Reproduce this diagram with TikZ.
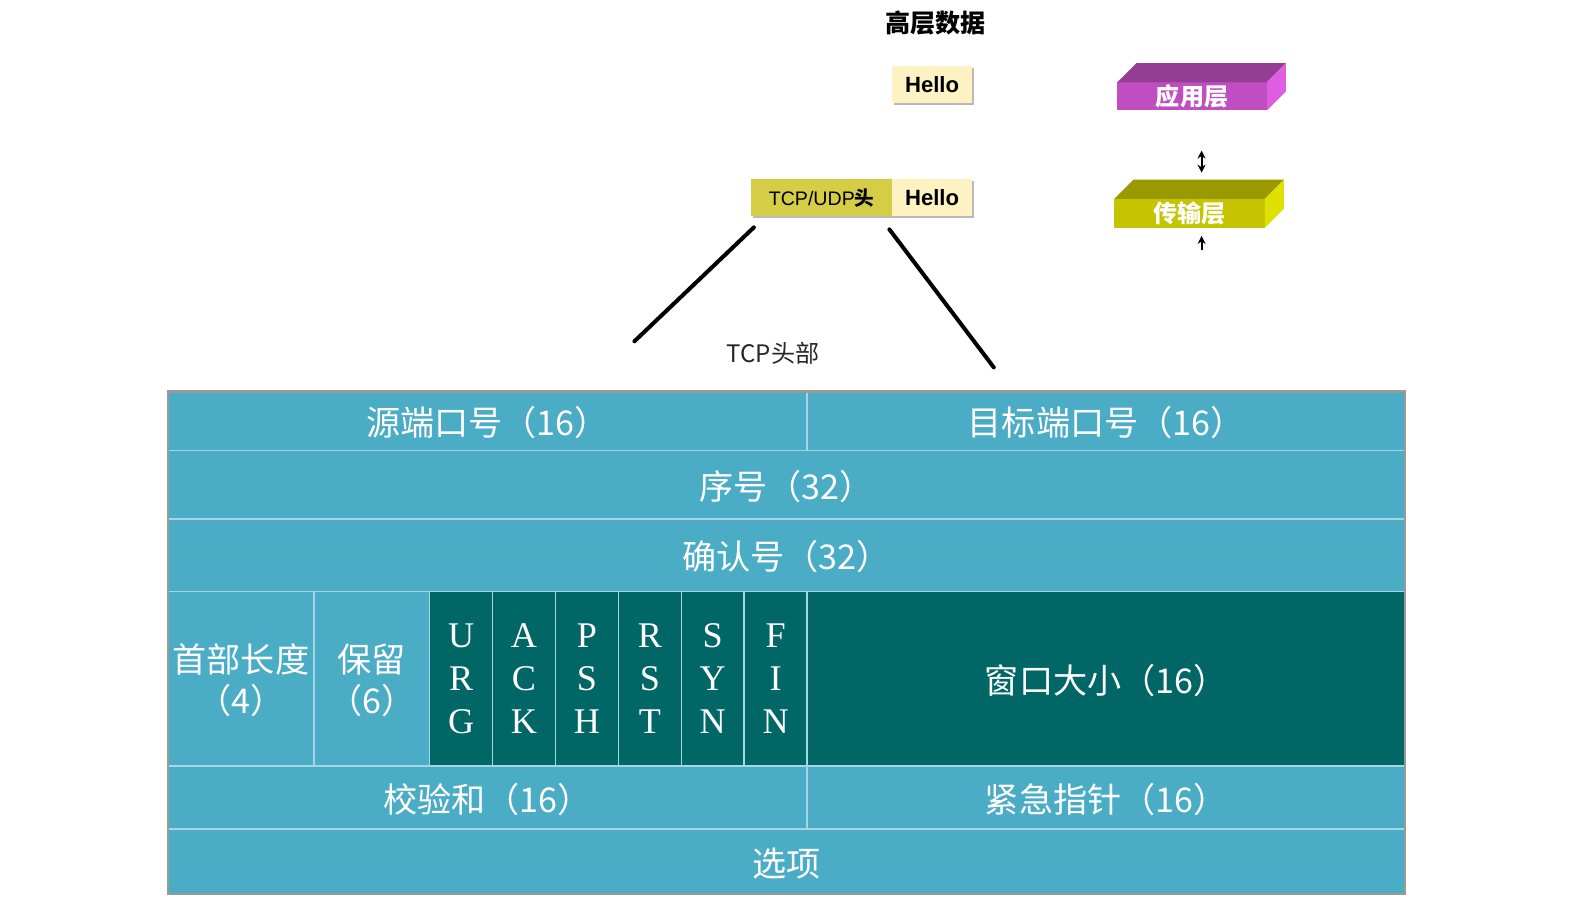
\documentclass[tikz,border=0pt]{standalone}
\usepackage{fontspec}
\setsansfont{Liberation Sans}
\newfontfamily\cjk{Noto Sans CJK SC}
\newfontfamily\flagfont{Liberation Serif}
\usetikzlibrary{arrows.meta,positioning,shadows}

\definecolor{aqua}{HTML}{4BACC6}
\definecolor{deepteal}{HTML}{006666}
\definecolor{gridline}{HTML}{A6D6E3}
\definecolor{hellofill}{HTML}{FFF2C2}
\definecolor{headfill}{HTML}{D4CD45}
\definecolor{appfront}{HTML}{C04EC0}
\definecolor{apptop}{HTML}{943D94}
\definecolor{appside}{HTML}{E05CE0}
\definecolor{trfront}{HTML}{C4C400}
\definecolor{trtop}{HTML}{9A9A00}
\definecolor{trside}{HTML}{E0E000}

\tikzset{
 cell/.style={draw=gridline,line width=1.5pt,fill=aqua,text=white,inner sep=0pt,outer sep=0pt,
  anchor=north west,align=center,text depth=-6pt,font=\cjk\fontsize{34}{41}\selectfont},
 flag/.style={cell,fill=deepteal,text depth=-11pt,font=\flagfont\fontsize{36}{43}\selectfont},
 pkt/.style={inner sep=0pt,outer sep=0pt,minimum height=37pt,
  drop shadow={shadow xshift=2pt,shadow yshift=-2pt,fill=black!60,opacity=.45}},
 layer/.style={inner sep=0pt,outer sep=0pt,text=white,font=\cjk\bfseries\fontsize{24}{24}\selectfont},
}

\begin{document}
\begin{tikzpicture}[x=1pt,y=-1pt,>=Stealth]
 \useasboundingbox (0,0) rectangle (1568,897);
 % data units
 \node[font=\cjk\bfseries\fontsize{25}{25}\selectfont] (upper) at (932,23) {高层数据};
 \node[pkt,fill=headfill,minimum width=141pt,font=\sffamily\fontsize{19.5}{19.5}\selectfont] (hdr) at (818.5,197) {TCP/UDP{\cjk\bfseries 头}};
 \node[pkt,fill=hellofill,minimum width=79pt,font=\sffamily\bfseries\fontsize{22}{22}\selectfont,right=0pt of hdr] (hello2) {Hello};
 \node[pkt,fill=hellofill,minimum width=79pt,font=\sffamily\bfseries\fontsize{22}{22}\selectfont,above=76pt of hello2] (hello1) {Hello};
 \coordinate (lfoot) at (632,340);
 \coordinate (rfoot) at (990,366);
 \draw[line width=4pt,line cap=round] ([xshift=3pt,yshift=-11pt]hdr.south west) -- (lfoot);
 \draw[line width=4pt,line cap=round] ([xshift=-3pt,yshift=-13pt]hdr.south east) -- (rfoot);
 \node[font=\cjk\fontsize{24}{24}\selectfont,text=black!85] (tcphead) at (770,352) {TCP头部};
 % layers
 \node[layer,fill=appfront,minimum width=149pt,minimum height=28pt] (app) at (1187.5,96) {应用层};
 \fill[apptop] (app.north west) -- ++(19,-19) -- ([shift={(19,-19)}]app.north east) -- (app.north east) -- cycle;
 \fill[appside] (app.north east) -- ++(19,-19) -- ([shift={(19,-19)}]app.south east) -- (app.south east) -- cycle;
 \node[layer,fill=trfront,minimum width=150pt,minimum height=29pt] (tr) at (1185,212.5) {传输层};
 \fill[trtop] (tr.north west) -- ++(19,-19) -- ([shift={(19,-19)}]tr.north east) -- (tr.north east) -- cycle;
 \fill[trside] (tr.north east) -- ++(19,-19) -- ([shift={(19,-19)}]tr.south east) -- (tr.south east) -- cycle;
 \coordinate (a1) at (1197,150);
 \coordinate (a2) at (1197,172);
 \coordinate (a3) at (1197,249);
 \coordinate (a4) at (1197,235);
 \draw[<->,line width=2pt,>={Stealth[length=8pt,width=8pt]}] (a1) -- (a2);
 \draw[->,line width=2pt,>={Stealth[length=8pt,width=8pt]}] (a3) -- (a4);
 % header fields
 \node[cell,minimum width=637pt,minimum height=59pt] (srcport) at (167,390) {源端口号（16）};
 \node[cell,minimum width=596pt,minimum height=59pt] (dstport) at (srcport.north east) {目标端口号（16）};
 \node[cell,minimum width=1233pt,minimum height=68pt] (seq) at (srcport.south west) {序号（32）};
 \node[cell,minimum width=1233pt,minimum height=72pt] (ack) at (seq.south west) {确认号（32）};
 \node[cell,minimum width=146pt,minimum height=174pt] (hlen) at (ack.south west) {首部长度\\（4）};
 \node[cell,minimum width=115pt,minimum height=174pt] (resv) at (hlen.north east) {保留\\（6）};
 \foreach \t [count=\i] in {{U\\R\\G},{A\\C\\K},{P\\S\\H},{R\\S\\T},{S\\Y\\N},{F\\I\\N}}
  \node[flag,minimum width=62.67pt,minimum height=174pt] (flag\i) at ({428+62.67*(\i-1)},589) {\t};
 \node[cell,fill=deepteal,minimum width=596pt,minimum height=174pt] (win) at (flag6.north east) {窗口大小（16）};
 \node[cell,minimum width=637pt,minimum height=63pt] (csum) at (hlen.south west) {校验和（16）};
 \node[cell,minimum width=596pt,minimum height=63pt] (urgptr) at (csum.north east) {紧急指针（16）};
 \node[cell,minimum width=1233pt,minimum height=65pt] (opts) at (csum.south west) {选项};
 \draw[black!40,line width=2pt] (srcport.north west) rectangle (opts.south east);
\end{tikzpicture}
\end{document}
